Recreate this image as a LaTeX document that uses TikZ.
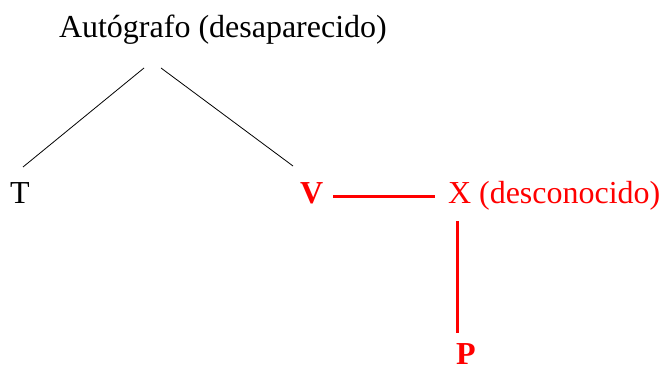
\documentclass[tikz,border=0pt]{standalone}
\usepackage{fontspec}
\setmainfont{Liberation Serif}
\usetikzlibrary{calc}
\begin{document}
\begin{tikzpicture}[x=1pt,y=1pt,
  lbl/.style={inner sep=0pt,outer sep=0pt,anchor=base west,font=\fontsize{32}{38}\selectfont},
  redlbl/.style={lbl,text=red},
  treeline/.style={draw=black,line width=0.8pt},
  redline/.style={draw=red,line width=3pt}]
\useasboundingbox (0,0) rectangle (662,370);
\node[lbl] (auto) at (59,332) {Autógrafo (desaparecido)};
\node[lbl] (T) at (10,166) {T};
\node[redlbl,font=\fontsize{32}{38}\selectfont\bfseries] (V) at (300,166) {V};
\node[redlbl] (X) at (448,166) {X (desconocido)};
\node[redlbl,font=\fontsize{32}{38}\selectfont\bfseries] (P) at (456,6) {P};
\draw[treeline] ($(auto.base west)+(85,-30)$) -- ($(T.base west)+(13,37)$);
\draw[treeline] ($(auto.base west)+(102,-30)$) -- ($(V.base west)+(-7,38)$);
\draw[redline] ($(V.base west)+(33,7)$) -- ($(X.base west)+(-13,7)$);
\draw[redline] ($(X.base west)+(9,-17)$) -- ($(P.base west)+(1,31)$);
\end{tikzpicture}
\end{document}
